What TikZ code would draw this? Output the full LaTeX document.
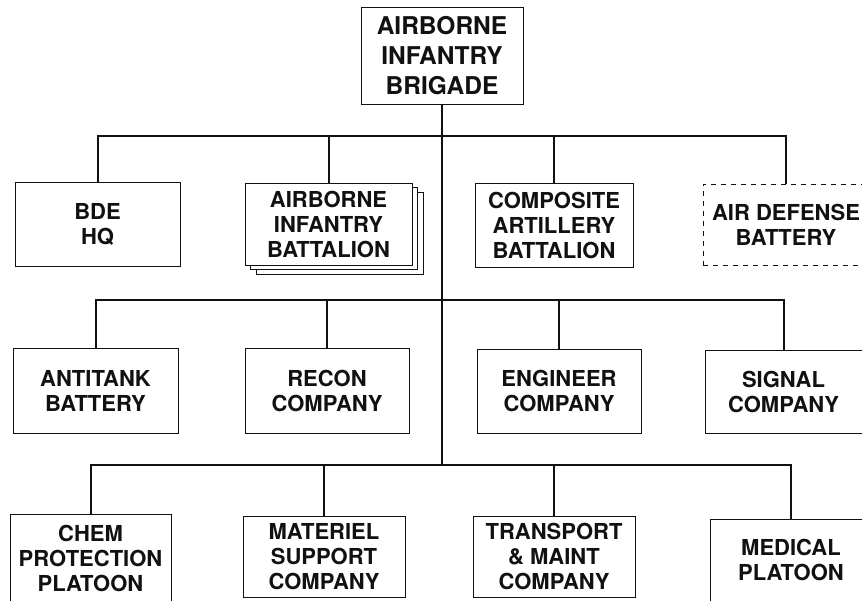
\documentclass[tikz,border=0pt]{standalone}
\usepackage{fontspec}
\setmainfont{TeX Gyre Heros}
\usetikzlibrary{positioning,shadows}
\definecolor{ink}{HTML}{111111}
\tikzset{line width=2pt,
  every node/.style={text=ink},
  unit/.style={draw=ink,fill=white,align=center,inner sep=0pt,
    font=\bfseries\fontsize{22}{25}\selectfont},
  hqunit/.style={unit,font=\bfseries\fontsize{24.5}{30}\selectfont},
  attached/.style={unit,dash pattern=on 5pt off 5pt},
  multiple/.style={unit,copy shadow={shadow xshift=11pt,shadow yshift=-9pt},
    copy shadow={shadow xshift=5pt,shadow yshift=-4pt}},
  bus/.style={draw=ink,line width=2pt}}

\begin{document}
\begin{tikzpicture}[x=1pt,y=-1pt]
\useasboundingbox (0,0) rectangle (862,600);

% brigade
\node[hqunit,minimum width=162pt,minimum height=97pt] (bde) at (442,55.5) {AIRBORNE\\INFANTRY\\BRIGADE};

% first row
\node[unit,minimum width=165pt,minimum height=84pt] (hq) at (97.5,224) {BDE\\HQ};
\node[multiple,minimum width=167pt,minimum height=82pt] (infbn) at (328.5,224) {AIRBORNE\\INFANTRY\\BATTALION};
\node[unit,minimum width=158pt,minimum height=84pt] (arty) at (554,225) {COMPOSITE\\ARTILLERY\\BATTALION};
\node[attached,minimum width=166pt,minimum height=81pt] (airdef) at (786,224.5) {AIR DEFENSE\\BATTERY};

% second and third rows
\foreach \nm/\cx/\cy/\boxw/\boxh/\txt in {
  antitank/95.5/390.5/165/85/{ANTITANK\\BATTERY},
  recon/327/390.5/164/85/{RECON\\COMPANY},
  engr/559/391/164/84/{ENGINEER\\COMPANY},
  signal/783.5/391.5/157/83/{SIGNAL\\COMPANY},
  chem/90.5/558/161/87/{CHEM\\PROTECTION\\PLATOON},
  mat/324/556.5/162/81/{MATERIEL\\SUPPORT\\COMPANY},
  trans/554/556.5/162/81/{TRANSPORT\\\& MAINT\\COMPANY},
  med/791/560/162/82/{MEDICAL\\PLATOON}}
  \node[unit,minimum width=\boxw pt,minimum height=\boxh pt] (\nm) at (\cx,\cy) {\txt};

% buses
\coordinate (bus1) at (442,136);
\coordinate (bus2) at (442,300);
\coordinate (bus3) at (442,465);
\draw[bus] (bde.south) -- (bus3);
\draw[bus] (hq.north) |- (bus1) -| (airdef.north);
\draw[bus] (bus1) -| (infbn.north);
\draw[bus] (bus1) -| (arty.north);
\draw[bus] (antitank.north) |- (bus2) -| (signal.north);
\draw[bus] (bus2) -| (recon.north);
\draw[bus] (bus2) -| (engr.north);
\draw[bus] (chem.north) |- (bus3) -| (med.north);
\draw[bus] (bus3) -| (mat.north);
\draw[bus] (bus3) -| (trans.north);
\end{tikzpicture}
\end{document}
